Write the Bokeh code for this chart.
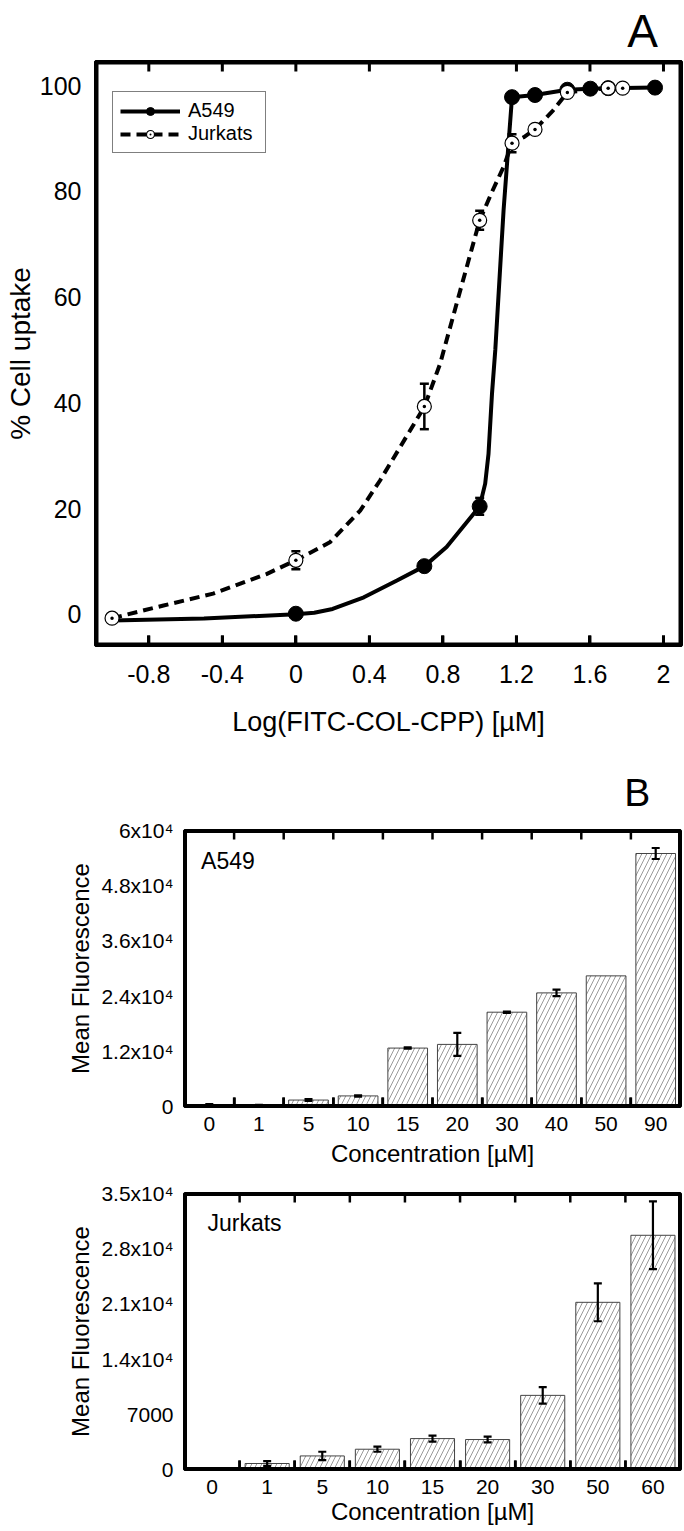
import numpy as np
from bokeh.plotting import figure
from bokeh.models import Range1d, LinearAxis, FixedTicker, Legend, LegendItem, Label
from bokeh.layouts import column
from bokeh.embed import file_html
from bokeh.resources import INLINE

FONT = "Liberation Sans"

# ---------------- Panel A data (log concentration vs % uptake) ----------------
a549_logc = [0.0, 0.699, 1.0, 1.176, 1.301, 1.477, 1.602, 1.699, 1.954]
a549_uptake = [0.1, 9.1, 20.4, 97.8, 98.2, 99.2, 99.4, 99.5, 99.6]
a549_uptake_err = [0, 0, 1.6, 0, 0, 0, 0, 0, 0]

jurkat_logc = [-1.0, 0.0, 0.699, 1.0, 1.176, 1.301, 1.477, 1.699, 1.778]
jurkat_uptake = [-0.75, 10.2, 39.3, 74.5, 89.1, 91.7, 98.7, 99.5, 99.5]
jurkat_uptake_err = [0, 1.7, 4.3, 1.8, 1.7, 0.8, 0, 0, 0]

# smooth fitted curves
a549_curve_x = [-1.0, -0.5, 0.0, 0.1, 0.2, 0.37, 0.55, 0.7, 0.82, 1.0, 1.03, 1.048, 1.067,
                1.085, 1.103, 1.13, 1.157, 1.176, 1.301, 1.477, 1.602, 1.699, 1.954]
a549_curve_y = [-1.2, -0.8, 0.0, 0.3, 1.0, 3.2, 6.4, 9.1, 12.7, 20.4, 24.7, 30.3, 41.7,
                50.0, 60.6, 76.4, 89.0, 97.8, 98.2, 99.2, 99.4, 99.5, 99.6]
jurkat_curve_x = [-1.0, -0.72, -0.45, -0.16, 0.0, 0.185, 0.35, 0.458, 0.567, 0.7, 0.785, 0.894,
                  1.0, 1.066, 1.13, 1.176, 1.239, 1.301, 1.40, 1.477, 1.699, 1.778]
jurkat_curve_y = [-0.75, 1.65, 3.9, 7.6, 10.2, 13.6, 19.6, 25.3, 31.6, 39.3, 47.4, 61.2,
                  74.5, 79.8, 84.6, 89.1, 90.2, 91.7, 95.3, 98.7, 99.5, 99.5]

a_xticks = [-0.8, -0.4, 0.0, 0.4, 0.8, 1.2, 1.6, 2.0]
a_xtick_labels = ["-0.8", "-0.4", "0", "0.4", "0.8", "1.2", "1.6", "2"]
a_yticks = [0, 20, 40, 60, 80, 100]

# ---------------- Panel B data (mean fluorescence) ----------------
a549_conc = ["0", "1", "5", "10", "15", "20", "30", "40", "50", "90"]
a549_fluor = [350, 300, 1400, 2300, 12700, 13500, 20500, 24700, 28400, 55000]
a549_fluor_err = [150, 80, 200, 150, 150, 2500, 150, 700, 0, 1200]

jurkat_conc = ["0", "1", "5", "10", "15", "20", "30", "50", "60"]
jurkat_fluor = [150, 760, 1720, 2570, 3920, 3800, 9400, 21200, 29700]
jurkat_fluor_err = [0, 300, 530, 320, 380, 360, 1050, 2400, 4300]

b1_yticks = [0, 12000, 24000, 36000, 48000, 60000]
b1_ytick_labels = ["0", "1.2x10⁴", "2.4x10⁴", "3.6x10⁴", "4.8x10⁴", "6x10⁴"]
b2_yticks = [0, 7000, 14000, 21000, 28000, 35000]
b2_ytick_labels = ["0", "7000", "1.4x10⁴", "2.1x10⁴", "2.8x10⁴", "3.5x10⁴"]

# panel letters: text and the x position of their centre (axis units of each panel)
panel_letters = ["A", "B"]
panel_letter_x = [1.886, 9.13]


def base_style(p):
    p.xgrid.visible = False
    p.ygrid.visible = False
    p.outline_line_color = "black"
    p.outline_line_width = 3
    try:
        p.frame_align = False
    except Exception:
        pass


def style_axis(ax, tick_size, label_size, w):
    ax.major_label_text_font = FONT
    ax.major_label_text_font_size = tick_size
    ax.major_label_text_color = "black"
    ax.axis_label_text_font = FONT
    ax.axis_label_text_font_size = label_size
    ax.axis_label_text_font_style = "normal"
    ax.axis_label_text_color = "black"
    ax.axis_line_color = "black"
    ax.axis_line_width = w


def frame_and_ticks(p, xr, yr, frame_h_px, ticks, tick_px, frame_w, tick_w):
    # frame box along the range limits, plus inward tick marks on bottom and top edges
    p.quad(left=[xr[0]], right=[xr[1]], bottom=[yr[0]], top=[yr[1]],
           fill_color=None, line_color="black", line_width=frame_w)
    per_px = (yr[1] - yr[0]) / frame_h_px
    n = len(ticks)
    yb = yr[0] + 0.5 * tick_px * per_px
    yt = yr[1] - 0.5 * tick_px * per_px
    p.scatter(x=list(ticks) + list(ticks), y=[yb] * n + [yt] * n, marker="dash",
              size=tick_px, angle=np.pi / 2, line_color="black", line_width=tick_w)


def letter_axis(p, letter, xpos, size, standoff):
    ax = LinearAxis(ticker=FixedTicker(ticks=[xpos]))
    style_axis(ax, size, "1px", 3)
    ax.major_label_overrides = {xpos: letter}
    ax.major_tick_line_color = None
    ax.major_tick_in = 0
    ax.major_tick_out = 0
    ax.minor_tick_line_color = None
    ax.minor_tick_in = 0
    ax.minor_tick_out = 0
    ax.major_label_standoff = standoff
    p.add_layout(ax, "above")


def add_errorbars(p, xs, ys, errs, cap, width):
    sel = [i for i, e in enumerate(errs) if e > 0]
    ex = [xs[i] for i in sel]
    up = [ys[i] + errs[i] for i in sel]
    lo = [ys[i] - errs[i] for i in sel]
    p.segment(x0=ex, y0=lo, x1=ex, y1=up, line_color="black", line_width=width)
    p.scatter(x=ex + ex, y=up + lo, marker="dash", size=cap, line_color="black",
              line_width=width)


# =============================== Panel A ===============================
A_X = (-1.09, 2.098)
A_Y = (-5.91, 104.54)
pA = figure(width=684, height=760, output_backend="svg", toolbar_location=None,
            x_range=Range1d(*A_X), y_range=Range1d(*A_Y),
            min_border_left=95, min_border_right=3, min_border_top=61, min_border_bottom=115)
base_style(pA)

xa = pA.xaxis[0]
style_axis(xa, "25px", "27px", 3)
xa.ticker = FixedTicker(ticks=a_xticks)
xa.major_label_overrides = dict(zip(a_xticks, a_xtick_labels))
xa.major_tick_in = 10
xa.major_tick_out = 0
xa.major_tick_line_width = 3
xa.minor_tick_line_color = None
xa.major_label_standoff = 19
xa.axis_label = "Log(FITC-COL-CPP) [µM]"
xa.axis_label_standoff = 21

letter_axis(pA, panel_letters[0], panel_letter_x[0], "46px", 5)

ya = pA.yaxis[0]
style_axis(ya, "25px", "28px", 3)
ya.ticker = FixedTicker(ticks=a_yticks)
ya.major_tick_line_color = None
ya.major_tick_in = 0
ya.major_tick_out = 0
ya.minor_tick_line_color = None
ya.major_label_standoff = 14
ya.axis_label = "% Cell uptake"
ya.axis_label_standoff = 1

frame_and_ticks(pA, A_X, A_Y, 584, a_xticks, 10, 6, 3)

lineA = pA.line(a549_curve_x, a549_curve_y, line_color="black", line_width=4)
lineJ = pA.line(jurkat_curve_x, jurkat_curve_y, line_color="black", line_width=4, line_dash="10 6")
add_errorbars(pA, a549_logc, a549_uptake, a549_uptake_err, 9, 2.5)
add_errorbars(pA, jurkat_logc, jurkat_uptake, jurkat_uptake_err, 9, 2.5)
scA = pA.scatter(a549_logc, a549_uptake, marker="circle", size=15,
                 fill_color="black", line_color="black")
scJ = pA.scatter(jurkat_logc, jurkat_uptake, marker="circle_dot", size=14,
                 fill_color="white", line_color="black", line_width=1.2)

legA = Legend(items=[LegendItem(label="A549", renderers=[lineA, scA]),
                     LegendItem(label="Jurkats", renderers=[lineJ, scJ])],
              location=(17, 492), orientation="vertical",
              label_text_font=FONT, label_text_font_size="20px", label_text_color="black",
              glyph_width=60, glyph_height=20, label_height=20, label_width=70,
              label_standoff=8, spacing=0, padding=7, margin=0,
              border_line_color="black", border_line_width=1.5,
              background_fill_color="white", background_fill_alpha=1.0)
pA.add_layout(legA)


# =============================== Panel B ===============================
def bar_panel(cats, vals, errs, yticks, ylabels, height, top_border, bottom_border,
              ymax, inner_text, inner_x, inner_y, xlabel_standoff, letter=None, letter_x=None):
    n = len(cats)
    xs = list(np.arange(n) + 0.5)
    bounds = list(range(1, n))
    bx = (0, n)
    by = (0, ymax)
    p = figure(width=684, height=height, output_backend="svg", toolbar_location=None,
               x_range=Range1d(*bx), y_range=Range1d(*by),
               min_border_left=184, min_border_right=4,
               min_border_top=top_border, min_border_bottom=bottom_border)
    base_style(p)

    p.vbar(x=xs, top=vals, bottom=0, width=0.8, fill_color="white",
           line_color="#444444", line_width=1,
           hatch_pattern="/", hatch_color="#9a9a9a", hatch_scale=10, hatch_weight=1)
    add_errorbars(p, xs, vals, errs, 8, 2.2)
    frame_and_ticks(p, bx, by, 276, bounds, 9, 5, 2.5)

    xb = p.xaxis[0]
    style_axis(xb, "21px", "24px", 2.5)
    xb.ticker = FixedTicker(ticks=xs, minor_ticks=bounds)
    xb.major_label_overrides = dict(zip(xs, cats))
    xb.major_tick_line_color = None
    xb.major_tick_in = 0
    xb.major_tick_out = 0
    xb.minor_tick_in = 9
    xb.minor_tick_out = 0
    xb.minor_tick_line_width = 2.5
    xb.minor_tick_line_color = "black"
    xb.major_label_standoff = 10
    xb.axis_label = "Concentration [µM]"
    xb.axis_label_standoff = xlabel_standoff

    if letter:
        letter_axis(p, letter, letter_x, "39px", 17)

    yb = p.yaxis[0]
    style_axis(yb, "21px", "24px", 2.5)
    yb.ticker = FixedTicker(ticks=yticks)
    yb.major_label_overrides = dict(zip(yticks, ylabels))
    yb.major_tick_line_color = None
    yb.major_tick_in = 0
    yb.major_tick_out = 0
    yb.minor_tick_line_color = None
    yb.major_label_standoff = 11
    yb.axis_label = "Mean Fluorescence"
    yb.axis_label_standoff = 4

    p.add_layout(Label(x=inner_x, y=inner_y, text=inner_text, text_font=FONT,
                       text_font_size="23px", text_align="left",
                       text_baseline="alphabetic", text_color="black"))
    return p


pB1 = bar_panel(a549_conc, a549_fluor, a549_fluor_err, b1_yticks, b1_ytick_labels,
                410, 70, 64, 60000, "A549", 0.335, 53300, 6,
                letter=panel_letters[1], letter_x=panel_letter_x[1])
pB2 = bar_panel(jurkat_conc, jurkat_fluor, jurkat_fluor_err, b2_yticks, b2_ytick_labels,
                361, 23, 62, 35000, "Jurkats", 0.417, 31300, 1)

layout = column(pA, pB1, pB2)
open("out.html", "w").write(file_html(layout, INLINE))
